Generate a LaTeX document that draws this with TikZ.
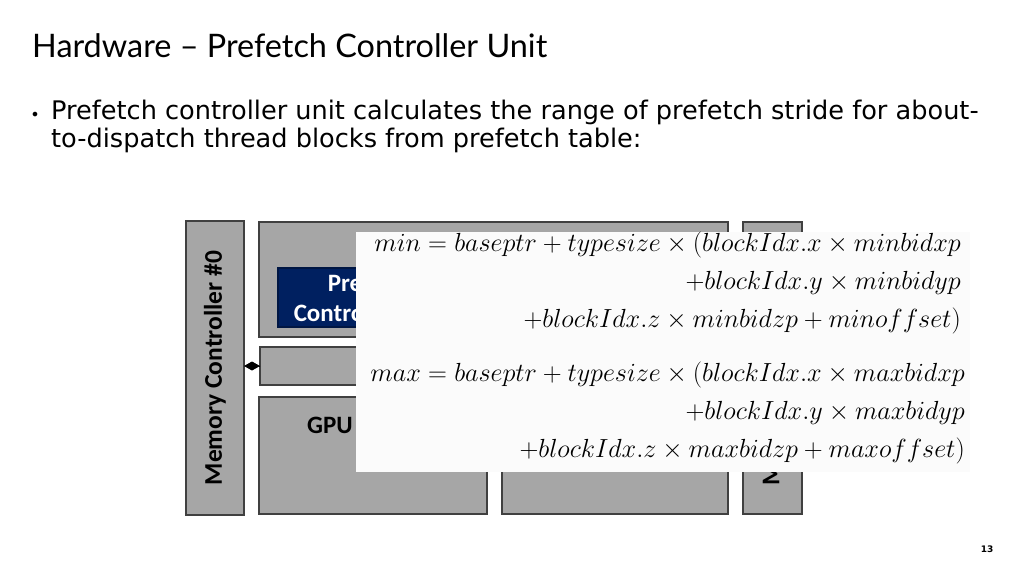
\RequirePackage{fix-cm}
\documentclass[tikz,border=0pt]{standalone}
\usepackage[no-math]{fontspec}
\setmainfont{DejaVu Sans}
\newfontfamily\titlefont{Lato}
\newfontfamily\boxfont{Carlito}
\usetikzlibrary{arrows.meta}
\definecolor{unit}{HTML}{A6A6A6}
\definecolor{edge}{HTML}{404040}
\definecolor{pcu}{HTML}{002060}
\definecolor{panel}{HTML}{FBFBFB}

\begin{document}
\begin{tikzpicture}[x=1pt,y=-1pt,
    blk/.style={draw=edge,fill=unit,line width=1.2pt,inner sep=0pt,outer sep=0pt,
      font=\boxfont\bfseries\fontsize{25.5}{30}\selectfont},
    eq/.style={align=right,inner sep=0pt,anchor=base east,
      font=\fontsize{26.2}{38}\selectfont}]
  \useasboundingbox (0,0) rectangle (1024,576);
  \path
  (32,57) node[anchor=base west,inner sep=0pt,font=\titlefont\fontsize{32.4}{36}\selectfont](title) {Hardware – Prefetch Controller Unit}
  (35,116) node[inner sep=0pt,font=\fontsize{16}{16}\selectfont](bul) {•}
  (51,147) node[anchor=base west,align=left,inner sep=0pt,font=\fontsize{25.6}{28}\selectfont](body)
    {Prefetch controller unit calculates the range of prefetch stride for about-\\to-dispatch thread blocks from prefetch table:}
  (987,549) node[font=\bfseries\fontsize{9}{9}\selectfont](page) {13}
  ;

  \path
  (215,368) node[blk,rotate=90,minimum width=294,minimum height=58](mc0) {Memory Controller \#0}
  (772.5,368) node[blk,rotate=90,minimum width=292,minimum height=59](mc1) {Memory Controller \#1}
  (493.5,279.5) node[blk,minimum width=469,minimum height=115](sm) {}
  (371,297.5) node[blk,fill=pcu,draw=pcu!70!black,text=white,align=center,minimum width=186,minimum height=59,font=\boxfont\bfseries\fontsize{25}{30}\selectfont](pcu) {Prefetch\\Controller Unit}
  (494,366) node[blk,minimum width=468,minimum height=38](bar) {}
  (373,455.5) node[blk,minimum width=228,minimum height=117](gpu) {}
  (307,425) node[anchor=west,inner sep=0pt,font=\boxfont\bfseries\fontsize{25}{30}\selectfont](gpuLbl) {GPU}
  (615,455.5) node[blk,minimum width=226,minimum height=117](l2) {}
  ;

  \draw[line width=1pt,{Diamond[length=16pt,width=9pt]}-] (mc0.south |- bar.west) -- (bar.west);

  \path
  (663,352) node[fill=panel,minimum width=614,minimum height=240,inner sep=0pt](panel) {}
  (961,327) node[eq](minEq)
    {$min = baseptr + typesize \times (blockIdx.x \times minbidxp$\\
     $+blockIdx.y \times minbidyp$\\
     $+blockIdx.z \times minbidzp + minoffset)$}
  (965,457) node[eq](maxEq)
    {$max = baseptr + typesize \times (blockIdx.x \times maxbidxp$\\
     $+blockIdx.y \times maxbidyp$\\
     $+blockIdx.z \times maxbidzp + maxoffset)$}
  ;
\end{tikzpicture}
\end{document}
